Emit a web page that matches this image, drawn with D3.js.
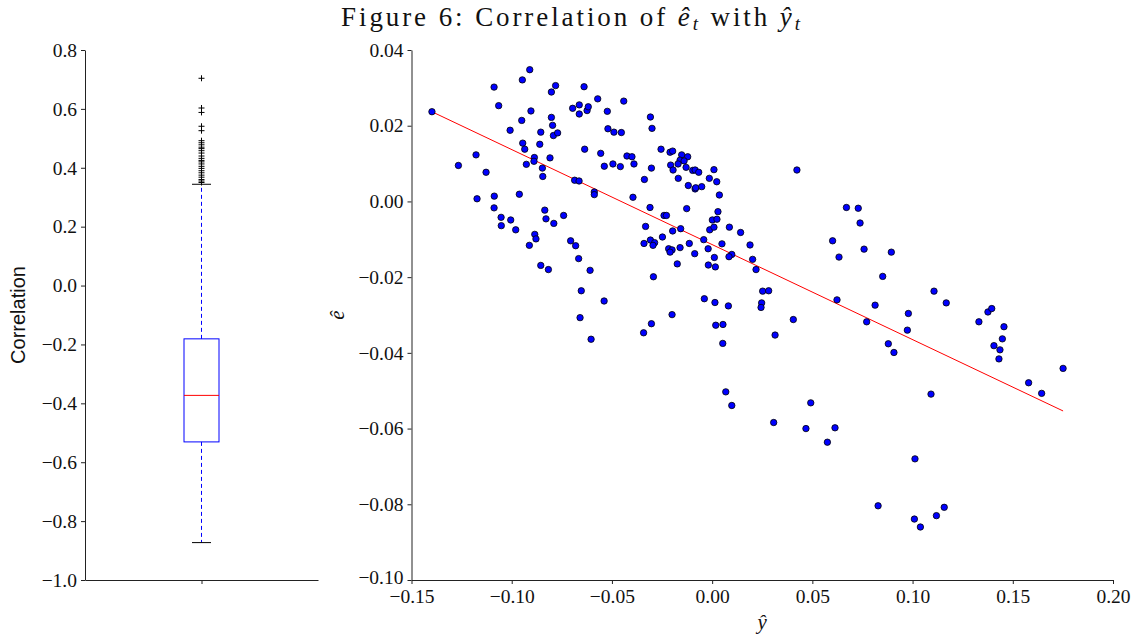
<!DOCTYPE html>
<html><head><meta charset="utf-8">
<script src="https://cdn.jsdelivr.net/npm/d3@7"></script>
<style>
body{margin:0;background:#fff;}
svg{display:block;}
.tick text{font-family:"Liberation Serif",serif;font-size:19.5px;fill:#111;}
</style></head>
<body>
<svg id="chart" width="1138" height="637"></svg>
<script>
// ---- Data ----
const titleText = "Figure 6: Correlation of ";
const boxQ1 = -0.531, boxMedian = -0.373, boxQ3 = -0.181;
const whiskerLow = -0.873, whiskerHigh = 0.344;
const fliers = [0.704,0.603,0.588,0.541,0.526,0.492,0.485,0.478,0.470,0.465,0.458,0.450,0.440,0.432,0.425,0.420,0.413,0.405,0.398,0.390,0.383,0.375,0.368,0.360,0.355,0.350];
const corrTicks = [0.8,0.6,0.4,0.2,0.0,-0.2,-0.4,-0.6,-0.8,-1.0];
const yHatTicks = [-0.15,-0.10,-0.05,0.00,0.05,0.10,0.15,0.20];
const eHatTicks = [0.04,0.02,0.00,-0.02,-0.04,-0.06,-0.08,-0.10];

const yHat = [
-0.1398,-0.1266,-0.1178,-0.1128,-0.1173,-0.1088,-0.1065,-0.1087,-0.1088,-0.1053,-0.1052,-0.1005,-0.1008,-0.0980,-0.0962,-0.0950,-0.0947,-0.0910,-0.0904,-0.0945,-0.0935,-0.0927,-0.0887,-0.0889,-0.0860,-0.0855,-0.0847,-0.0845,-0.0809,-0.0802,-0.0796,-0.0792,-0.0802,-0.0781,-0.0771,-0.0835,-0.0829,-0.0790,-0.0885,-0.0879,-0.0912,-0.0855,-0.0817,
-0.0639,-0.0696,-0.0663,-0.0663,-0.0624,-0.0618,-0.0571,-0.0523,-0.0441,-0.0520,-0.0490,-0.0453,-0.0308,-0.0300,-0.0636,-0.0556,-0.0538,-0.0495,-0.0458,-0.0425,-0.0400,-0.0390,-0.0303,-0.0338,-0.0255,-0.0210,-0.0197,-0.0152,-0.0122,-0.0160,-0.0140,-0.0170,-0.0207,-0.0195,-0.0130,-0.0097,-0.0085,-0.0067,-0.0169,-0.0119,-0.0085,-0.0082,-0.0052,-0.0014,0.0009,0.0023,0.0036,0.0029,0.0001,0.0024,-0.0012,0.0009,0.0086,0.0142,-0.0042,0.0049,-0.0020,0.0098,0.0084,0.0011,-0.0019,0.0016,-0.0039,0.0014,0.0081,-0.0200,-0.0395,-0.0310,-0.0127,-0.0240,-0.0228,-0.0332,-0.0197,-0.0157,-0.0248,-0.0340,-0.0308,-0.0287,-0.0295,-0.0217,-0.0200,-0.0210,-0.0160,-0.0114,-0.0087,-0.0174,-0.0293,-0.0686,-0.0664,-0.0588,-0.0588,-0.0741,-0.0706,-0.0681,-0.0666,-0.0609,-0.0653,-0.0539,-0.0659,
-0.0604,-0.0342,-0.0303,0.0018,0.0054,0.0053,0.0068,0.0098,
0.0423,0.0670,0.0729,0.0738,0.0601,0.0189,0.0202,0.0219,0.0252,0.0282,0.0247,0.0244,0.0405,0.0633,0.0758,0.0894,0.0851,0.0623,0.0813,0.0979,
0.0314,0.0771,0.0974,0.0879,0.0907,0.0492,0.0307,0.0468,0.0613,0.0575,0.1012,0.0828,0.1009,0.1039,
0.1092,0.1331,0.1456,0.1448,0.1406,0.1436,0.1431,0.1751,0.1579,0.1644,0.1158,0.1119,
0.1107,0.1168,0.1376,0.1395];
const eHat = [
0.0237,0.0095,0.0123,0.0077,0.0007,0.0302,0.0253,0.0014,-0.0017,-0.0042,-0.0064,-0.0049,0.0188,-0.0075,0.0019,0.0214,0.0321,0.0348,0.0239,0.0154,0.0138,0.0098,0.0116,0.0106,0.0151,0.0183,0.0088,0.0066,0.0115,0.0222,0.0201,0.0174,0.0289,0.0306,0.0181,-0.0023,-0.0046,-0.0058,-0.0087,-0.0099,-0.0116,-0.0169,-0.0180,
0.0303,0.0246,0.0255,0.0231,0.0240,0.0250,0.0271,0.0238,0.0265,0.0192,0.0183,0.0182,0.0223,0.0193,0.0138,0.0127,0.0093,0.0099,0.0092,0.0120,0.0118,0.0099,0.0088,0.0058,0.0138,0.0130,0.0133,0.0123,0.0118,0.0109,0.0107,0.0099,0.0096,0.0083,0.0090,0.0082,0.0083,0.0077,0.0061,0.0042,0.0033,0.0036,0.0039,0.0061,0.0084,0.0052,0.0017,-0.0027,-0.0049,-0.0047,-0.0075,-0.0068,-0.0068,-0.0082,-0.0101,-0.0112,-0.0125,-0.0140,-0.0146,-0.0148,-0.0168,-0.0173,-0.0257,-0.0267,-0.0276,-0.0299,0.0011,-0.0016,-0.0019,-0.0037,-0.0037,-0.0066,-0.0078,-0.0072,-0.0094,-0.0111,-0.0102,-0.0109,-0.0116,-0.0125,-0.0128,-0.0134,-0.0122,-0.0111,-0.0138,-0.0165,-0.0199,0.0056,0.0054,0.0025,0.0018,-0.0037,-0.0104,-0.0117,-0.0151,-0.0182,-0.0236,-0.0263,-0.0307,
-0.0364,-0.0347,-0.0323,-0.0327,-0.0325,-0.0375,-0.0503,-0.0539,
0.0083,-0.0016,-0.0018,-0.0057,-0.0104,-0.0115,-0.0153,-0.0180,-0.0237,-0.0236,-0.0268,-0.0280,-0.0312,-0.0147,-0.0126,-0.0134,-0.0198,-0.0260,-0.0274,-0.0296,
-0.0353,-0.0318,-0.0340,-0.0376,-0.0399,-0.0532,-0.0584,-0.0600,-0.0598,-0.0636,-0.0680,-0.0804,-0.0839,-0.0860,
-0.0509,-0.0318,-0.0331,-0.0363,-0.0381,-0.0392,-0.0416,-0.0441,-0.0479,-0.0507,-0.0808,-0.0830,
-0.0237,-0.0268,-0.0292,-0.0283];
const fitSlope = -0.251, fitIntercept = -0.0114;

// ---- Drawing ----
const svg = d3.select("#chart");
svg.append("rect").attr("width",1138).attr("height",637).attr("fill","#fff");
const serif = "'Liberation Serif', serif";
const axisColor = "#222";

// title
const t = svg.append("text").attr("x",572).attr("y",26).attr("text-anchor","middle")
  .attr("font-family",serif).attr("font-size",27).attr("fill","#111");
t.append("tspan").text(titleText);
t.append("tspan").attr("font-style","italic").text("ê");
t.append("tspan").attr("font-style","italic").attr("font-size",19).attr("dy",4).text("t");
t.append("tspan").attr("dy",-4).text(" with ");
t.append("tspan").attr("font-style","italic").text("ŷ");
t.append("tspan").attr("font-style","italic").attr("font-size",19).attr("dy",4).text("t");
{
  const w = t.node().getComputedTextLength();
  const n = t.text().length;
  const target = 462;
  if (w < target) t.attr("letter-spacing", ((target - w) / n).toFixed(2));
}

const plotTop = 50, plotBottom = 580;

// ---- left: boxplot ----
const L = {x0:85, x1:318};
const yC = d3.scaleLinear().domain([-1.0,0.8]).range([plotBottom, plotTop]);
const xB = d3.scaleLinear().domain([0.5,1.5]).range([L.x0, L.x1]);
const gl = svg.append("g");
const ax1 = gl.append("g").attr("transform",`translate(${L.x0},0)`)
  .call(d3.axisLeft(yC).tickValues(corrTicks).tickFormat(d3.format(".1f")).tickSizeInner(4).tickSizeOuter(0).tickPadding(4));
const bx1 = gl.append("g").attr("transform",`translate(0,${plotBottom})`)
  .call(d3.axisBottom(xB).tickValues([1]).tickFormat("").tickSizeInner(4).tickSizeOuter(0));
[ax1,bx1].forEach(a=>{a.selectAll("path,line").attr("stroke",axisColor).attr("stroke-width",1);});

const cx = xB(1), bw = 35, cw = 19;
gl.append("line").attr("x1",cx).attr("x2",cx).attr("y1",yC(boxQ3)).attr("y2",yC(whiskerHigh))
  .attr("stroke","#0000ff").attr("stroke-dasharray","4,3");
gl.append("line").attr("x1",cx).attr("x2",cx).attr("y1",yC(boxQ1)).attr("y2",yC(whiskerLow))
  .attr("stroke","#0000ff").attr("stroke-dasharray","4,3");
[whiskerHigh, whiskerLow].forEach(v=>{
  gl.append("line").attr("x1",cx-cw/2).attr("x2",cx+cw/2).attr("y1",yC(v)).attr("y2",yC(v)).attr("stroke","#000");
});
gl.append("rect").attr("x",cx-bw/2).attr("width",bw).attr("y",yC(boxQ3)).attr("height",yC(boxQ1)-yC(boxQ3))
  .attr("fill","none").attr("stroke","#0000ff");
gl.append("line").attr("x1",cx-bw/2).attr("x2",cx+bw/2).attr("y1",yC(boxMedian)).attr("y2",yC(boxMedian)).attr("stroke","#ff0000");
gl.selectAll("path.flier").data(fliers).enter().append("path").attr("class","flier")
  .attr("d",d=>`M${cx-3},${yC(d)}H${cx+3}M${cx},${yC(d)-3}V${yC(d)+3}`)
  .attr("stroke","#000").attr("stroke-width",1);
gl.append("text").attr("transform",`translate(25,${(plotTop+plotBottom)/2}) rotate(-90)`).attr("text-anchor","middle")
  .attr("font-family","'Liberation Sans', Arial, sans-serif").attr("font-size",20).attr("fill","#111").text("Correlation");

// ---- right: scatter ----
const R = {x0:411.5, x1:1113};
const xS = d3.scaleLinear().domain([-0.15,0.20]).range([R.x0,R.x1]);
const yS = d3.scaleLinear().domain([-0.10,0.04]).range([plotBottom, plotTop]);
const gr = svg.append("g");
const ax2 = gr.append("g").attr("transform",`translate(${R.x0},0)`)
  .call(d3.axisLeft(yS).tickValues(eHatTicks).tickFormat(d3.format(".2f")).tickSizeInner(4).tickSizeOuter(0).tickPadding(4));
const bx2 = gr.append("g").attr("transform",`translate(0,${plotBottom})`)
  .call(d3.axisBottom(xS).tickValues(yHatTicks).tickFormat(d3.format(".2f")).tickSizeInner(4).tickSizeOuter(0).tickPadding(5));
[ax2,bx2].forEach(a=>{a.selectAll("path,line").attr("stroke",axisColor).attr("stroke-width",1);});
// nudge the bottom-most y label up a touch so it clears the x labels (as in the reference)
ax2.selectAll(".tick text").filter(d=>d===-0.10).attr("dy","0.2em");

const pts = yHat.map((x,i)=>({x, y:eHat[i]}));
const xExt = d3.extent(yHat);
const line = d3.line().x(d=>xS(d)).y(d=>yS(fitIntercept + fitSlope*d));
gr.append("path").attr("d",line(xExt)).attr("stroke","#ff0000").attr("stroke-width",1).attr("fill","none");
gr.selectAll("circle").data(pts).enter().append("circle")
  .attr("cx",d=>xS(d.x)).attr("cy",d=>yS(d.y)).attr("r",3.2)
  .attr("fill","#0000ff").attr("stroke","#000").attr("stroke-width",0.8);

gr.append("text").attr("x",(R.x0+R.x1)/2).attr("y",629).attr("text-anchor","middle")
  .attr("font-family",serif).attr("font-style","italic").attr("font-size",21).attr("fill","#111").text("ŷ");
gr.append("text").attr("transform",`translate(344,${(plotTop+plotBottom)/2}) rotate(-90)`).attr("text-anchor","middle")
  .attr("font-family",serif).attr("font-style","italic").attr("font-size",21).attr("fill","#111").text("ê");
</script>
</body></html>
